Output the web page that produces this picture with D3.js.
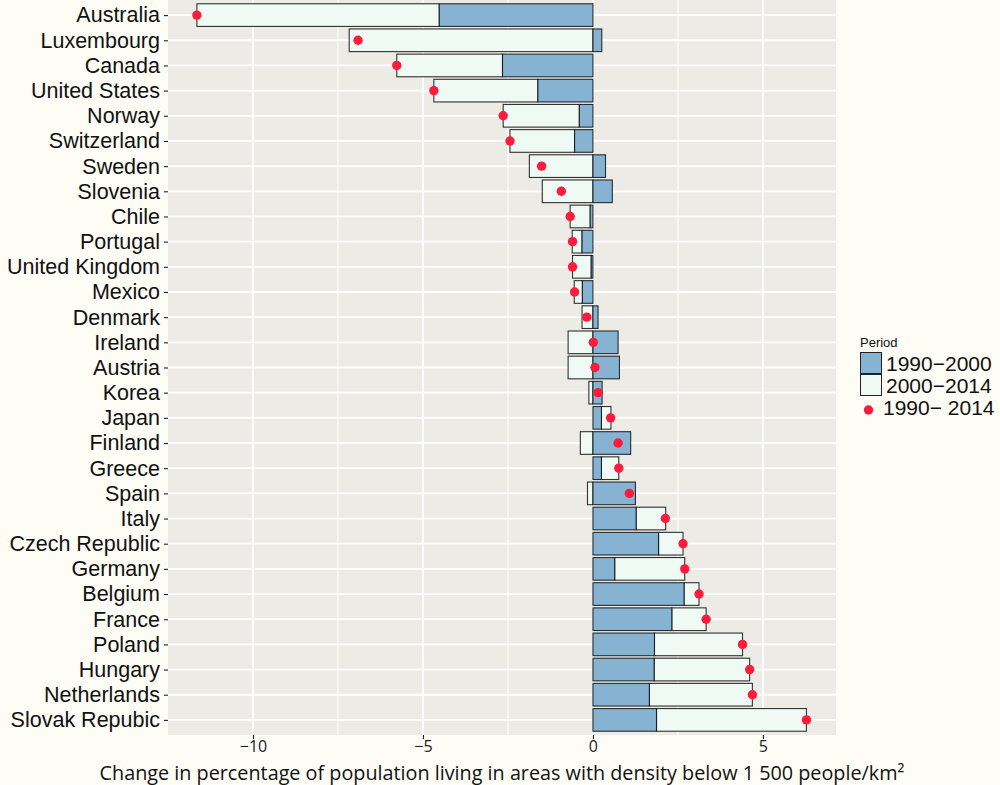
<!DOCTYPE html>
<html>
<head>
<meta charset="utf-8">
<script src="https://cdn.jsdelivr.net/npm/d3@7"></script>
<style>
  html, body { margin: 0; padding: 0; background: #fdfdf6; }
  svg { display: block; }
</style>
</head>
<body>
<svg id="chart" width="1000" height="785"></svg>
<script>
const countries = ["Australia","Luxembourg","Canada","United States","Norway","Switzerland","Sweden","Slovenia","Chile","Portugal","United Kingdom","Mexico","Denmark","Ireland","Austria","Korea","Japan","Finland","Greece","Spain","Italy","Czech Republic","Germany","Belgium","France","Poland","Hungary","Netherlands","Slovak Repubic"];
const p1990_2000 = [-4.52, 0.26, -2.66, -1.62, -0.40, -0.54, 0.37, 0.57, -0.08, -0.32, -0.05, -0.31, 0.15, 0.74, 0.78, 0.27, 0.25, 1.11, 0.25, 1.25, 1.27, 1.93, 0.64, 2.68, 2.32, 1.81, 1.80, 1.66, 1.87];
const p2000_2014 = [-7.13, -7.17, -3.11, -3.06, -2.24, -1.90, -1.87, -1.49, -0.59, -0.29, -0.55, -0.24, -0.32, -0.73, -0.73, -0.12, 0.28, -0.37, 0.51, -0.16, 0.87, 0.72, 2.06, 0.44, 1.01, 2.59, 2.81, 3.03, 4.41];
const p1990_2014 = [-11.65, -6.91, -5.77, -4.68, -2.64, -2.44, -1.51, -0.93, -0.67, -0.60, -0.60, -0.54, -0.18, 0.01, 0.06, 0.15, 0.52, 0.74, 0.76, 1.07, 2.13, 2.65, 2.70, 3.12, 3.33, 4.40, 4.61, 4.69, 6.28];
const xTicks = [-10, -5, 0, 5];
const xMinorTicks = [-7.5, -2.5, 2.5];
const legendLabels = ["1990\u22122000", "2000\u22122014", "1990\u2212 2014"];
const legendTitle = "Period";
const xTitle = "Change in percentage of population living in areas with density below 1 500 people/km\u00B2";

const colBlue = "#85b3d1", colLight = "#effaf5", colDot = "#ff1b3b";
const panel = {left: 168, right: 836, top: 0, bottom: 735};

const svg = d3.select("#chart");
svg.append("rect").attr("width", 1000).attr("height", 785).attr("fill", "#fdfdf6");

const x = d3.scaleLinear().domain([-12.5, 7.15]).range([panel.left, panel.right]);
const y = d3.scalePoint().domain(countries).range([panel.top, panel.bottom]).padding(0.6);
const bh = y.step() * 0.9;

// panel
svg.append("rect").attr("x", panel.left).attr("y", panel.top)
  .attr("width", panel.right - panel.left).attr("height", panel.bottom - panel.top)
  .attr("fill", "#edebe6");

const grid = svg.append("g");
grid.selectAll(".minor").data(xMinorTicks).join("line")
  .attr("x1", d => x(d)).attr("x2", d => x(d))
  .attr("y1", panel.top).attr("y2", panel.bottom)
  .attr("stroke", "#ffffff").attr("stroke-width", 1);
grid.selectAll(".major").data(xTicks).join("line")
  .attr("x1", d => x(d)).attr("x2", d => x(d))
  .attr("y1", panel.top).attr("y2", panel.bottom)
  .attr("stroke", "#ffffff").attr("stroke-width", 1.8);
grid.selectAll(".hy").data(countries).join("line")
  .attr("x1", panel.left).attr("x2", panel.right)
  .attr("y1", d => y(d)).attr("y2", d => y(d))
  .attr("stroke", "#ffffff").attr("stroke-width", 1.8);

// segments
const segs = [];
countries.forEach((c, i) => {
  const b = p1990_2000[i], l = p2000_2014[i];
  const lStart = (Math.sign(b) === Math.sign(l)) ? b : 0;
  segs.push({c, x0: lStart, x1: lStart + l, fill: colLight});
  segs.push({c, x0: 0, x1: b, fill: colBlue});
});
svg.append("g").selectAll("rect").data(segs).join("rect")
  .attr("x", d => x(Math.min(d.x0, d.x1)))
  .attr("width", d => Math.abs(x(d.x1) - x(d.x0)))
  .attr("y", d => y(d.c) - bh / 2)
  .attr("height", bh)
  .attr("fill", d => d.fill)
  .attr("stroke", "#111").attr("stroke-width", 1.1).attr("stroke-opacity", 0.85);

svg.append("g").selectAll("circle").data(countries).join("circle")
  .attr("cx", (d, i) => x(p1990_2014[i]))
  .attr("cy", d => y(d))
  .attr("r", 4.7)
  .attr("fill", colDot);

// y axis
const yAxis = svg.append("g").attr("transform", `translate(${panel.left},0)`)
  .call(d3.axisLeft(y).tickSize(4).tickPadding(4));
yAxis.select(".domain").remove();
yAxis.selectAll(".tick line").attr("stroke", "#222").attr("stroke-width", 1.1);
yAxis.selectAll(".tick text").attr("fill", "#111")
  .style("font-family", "'Liberation Sans', Arial, Helvetica, sans-serif")
  .style("font-size", "21.5px");

// x axis
const xAxis = svg.append("g").attr("transform", `translate(0,${panel.bottom})`)
  .call(d3.axisBottom(x).tickValues(xTicks).tickSize(4).tickPadding(2)
    .tickFormat(d => d < 0 ? "\u2212" + Math.abs(d) : String(d)));
xAxis.select(".domain").remove();
xAxis.selectAll(".tick line").attr("stroke", "#222").attr("stroke-width", 1.1);
xAxis.selectAll(".tick text").attr("fill", "#222")
  .style("font-family", "'Liberation Sans Narrow', 'Open Sans', sans-serif")
  .style("font-size", "16px");

svg.append("text")
  .attr("x", (panel.left + panel.right) / 2).attr("y", 780)
  .attr("text-anchor", "middle").attr("fill", "#111")
  .style("font-family", "'Open Sans', sans-serif")
  .style("font-size", "19.8px")
  .text(xTitle);

// legend
const lg = svg.append("g");
lg.append("text").attr("x", 860).attr("y", 347).text(legendTitle)
  .style("font-family", "'Liberation Sans', Arial, sans-serif").style("font-size", "13px").attr("fill", "#111");
const keyFills = [colBlue, colLight];
keyFills.forEach((f, i) => {
  lg.append("rect").attr("x", 860.5).attr("y", 352.5 + i * 22).attr("width", 21).attr("height", 21)
    .attr("fill", f).attr("stroke", "#222").attr("stroke-width", 1);
});
lg.append("circle").attr("cx", 868.5).attr("cy", 410).attr("r", 4.7).attr("fill", colDot);
legendLabels.forEach((t, i) => {
  lg.append("text").attr("x", i < 2 ? 886 : 883).attr("y", 371 + i * 22)
    .text(t).attr("fill", "#111")
    .style("font-family", "'Liberation Sans', Arial, sans-serif").style("font-size", "21px");
});
</script>
</body>
</html>
